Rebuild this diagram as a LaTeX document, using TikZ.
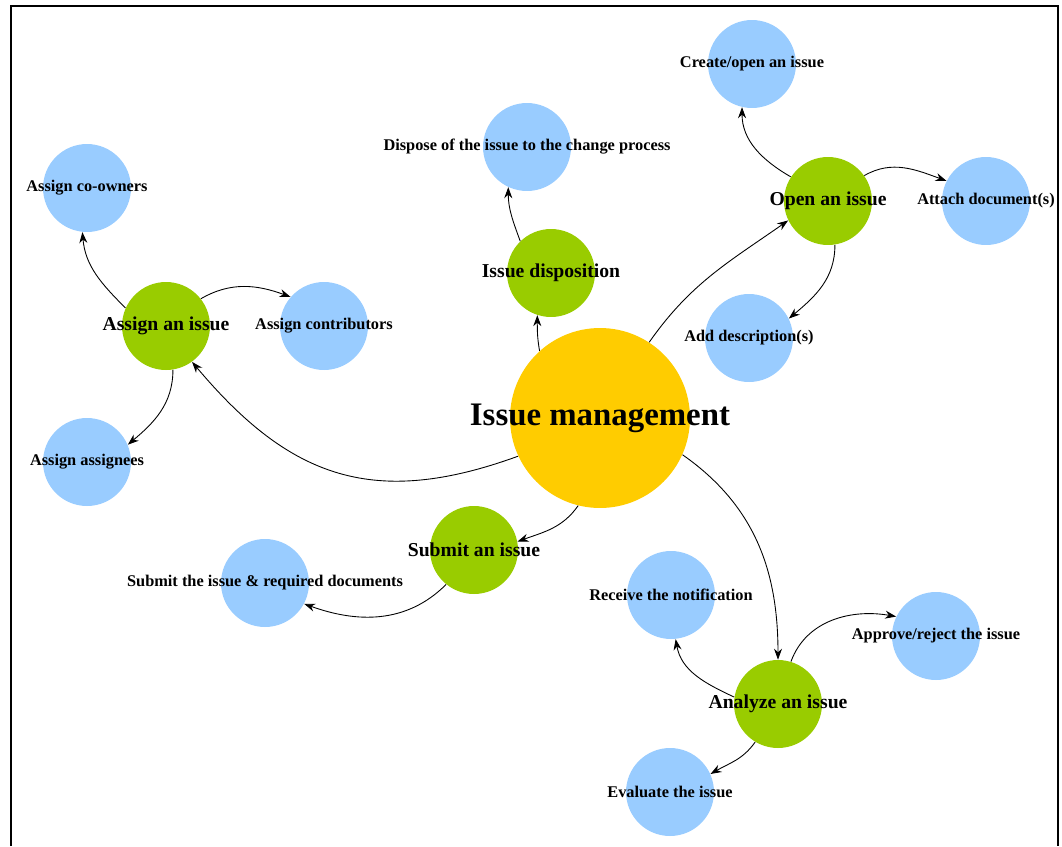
\documentclass[tikz,border=0pt]{standalone}
\usepackage{fontspec}
\setmainfont{Liberation Serif}
\usetikzlibrary{positioning,arrows.meta}

\definecolor{hubyellow}{HTML}{FFCC00}
\definecolor{taskgreen}{HTML}{99CC00}
\definecolor{subblue}{HTML}{99CCFF}

\tikzset{
  hub/.style={circle, fill=hubyellow, minimum size=3.6cm, inner sep=0pt},
  task/.style={circle, fill=taskgreen, minimum size=1.76cm, inner sep=0pt},
  sub/.style={circle, fill=subblue, minimum size=1.76cm, inner sep=0pt},
  hublabel/.style={font=\bfseries\fontsize{18.7}{22}\selectfont},
  tasklabel/.style={font=\bfseries\fontsize{11.2}{13}\selectfont},
  sublabel/.style={font=\bfseries\fontsize{9.3}{11}\selectfont},
  link/.style={black, line width=0.5pt, -{Stealth[length=2.2mm,width=1.6mm]}}
}

\begin{document}
\begin{tikzpicture}[x=0.02cm, y=-0.02cm]
 	\useasboundingbox (0,0) rectangle (1062,846);
 	\draw[line width=1.1pt] (11,846) -- (11,6) -- (1058,6) -- (1058,846);

 	\node[hub, label={[hublabel]center:Issue management}] (mgmt) at (600,418) {};

 	\node[task, label={[tasklabel]center:Open an issue}] (open) at (828,201) {};
 	\node[task, label={[tasklabel]center:Issue disposition}] (disp) at (551,273) {};
 	\node[task, label={[tasklabel]center:Assign an issue}] (assign) at (166,326) {};
 	\node[task, label={[tasklabel]center:Submit an issue}] (submit) at (474,550) {};
 	\node[task, label={[tasklabel]center:Analyze an issue}] (analyze) at (778,704) {};

 	\node[sub, label={[sublabel]center:Create/open an issue}] (create) at (752,64) {};
 	\node[sub, label={[sublabel]center:Attach document(s)}] (attach) at (986,201) {};
 	\node[sub, label={[sublabel]center:Add description(s)}] (descr) at (749,338) {};
 	\node[sub, label={[sublabel]center:Dispose of the issue to the change process}] (dispose) at (527,147) {};
 	\node[sub, label={[sublabel]center:Assign co-owners}] (coowners) at (87,188) {};
 	\node[sub, label={[sublabel]center:Assign contributors}] (contrib) at (324,326) {};
 	\node[sub, label={[sublabel]center:Assign assignees}] (assignees) at (87,462) {};
 	\node[sub, label={[sublabel]center:Submit the issue \& required documents}] (subdocs) at (265,583) {};
 	\node[sub, label={[sublabel]center:Receive the notification}] (receive) at (671,595) {};
 	\node[sub, label={[sublabel]center:Approve/reject the issue}] (approve) at (936,636) {};
 	\node[sub, label={[sublabel]center:Evaluate the issue}] (evaluate) at (670,792) {};

 	% links from the hub
 	\draw[link] (mgmt.57) to[out=55, in=215] (open.206);
 	\draw[link] (mgmt.132) to[out=100, in=270] (disp.252);
 	\draw[link] (mgmt.205) to[out=200, in=-50, looseness=1.15] (assign.306);
 	\draw[link] (mgmt.256) to[out=235, in=20] (submit.11);
 	\draw[link] (mgmt.336) to[out=-35, in=90] (analyze.90);

 	% links to the sub-tasks
 	\draw[link] (open.147) to[out=150, in=270] (create.257);
 	\draw[link] (open.35) to[out=30, in=160] (attach.153);
 	\draw[link] (open.279) to[out=-90, in=40] (descr.26);
 	\draw[link] (disp.134) to[out=110, in=-90] (dispose.245);
 	\draw[link] (assign.156) to[out=135, in=-85] (coowners.264);
 	\draw[link] (assign.38) to[out=30, in=160] (contrib.139);
 	\draw[link] (assign.279) to[out=-90, in=40] (assignees.23);
 	\draw[link] (submit.231) to[out=225, in=-20] (subdocs.332);
 	\draw[link] (analyze.171) to[out=155, in=-80] (receive.276);
 	\draw[link] (analyze.73) to[out=70, in=170] (approve.154);
 	\draw[link] (analyze.239) to[out=235, in=30] (evaluate.24);
\end{tikzpicture}
\end{document}
